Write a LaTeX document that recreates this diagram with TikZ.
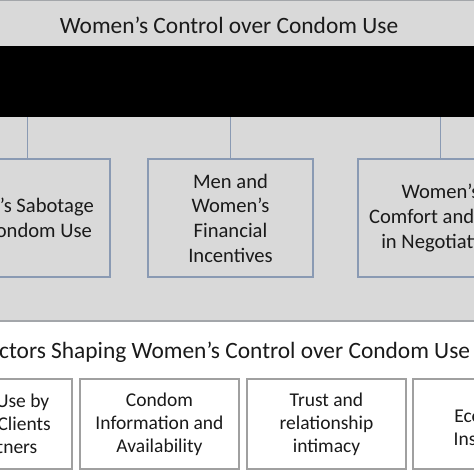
\documentclass[tikz,border=0pt]{standalone}
\usepackage{fontspec}
\setmainfont{Carlito}
\definecolor{bgrey}{HTML}{D9D9D9}
\definecolor{boxline}{HTML}{8A9AB3}
\definecolor{edgegrey}{HTML}{A3A6AA}
\definecolor{lowline}{HTML}{A0A0A0}
\definecolor{txt}{HTML}{1A1A1A}
\tikzset{
  titletext/.style={text=txt, inner sep=0pt, font=\fontsize{23.4}{28}\selectfont},
  topbox/.style={draw=boxline, fill=bgrey, line width=1.3pt, minimum width=165pt, minimum height=118pt,
    align=center, inner sep=0pt, text=txt, font=\fontsize{20.6}{24.7}\selectfont},
  lowbox/.style={draw=lowline, fill=white, line width=1.2pt, minimum width=159pt, minimum height=90pt,
    align=center, inner sep=0pt, text=txt, font=\fontsize{19.5}{22.8}\selectfont},
  conn/.style={draw=boxline, line width=1.3pt},
  blackbar/.style={fill=black, inner sep=0pt, minimum width=474pt, minimum height=71pt}
}
\begin{document}
\begin{tikzpicture}[x=1pt,y=-1pt]
\useasboundingbox (0,0) rectangle (474,474);
\clip (0,0) rectangle (474,474);
\fill[white] (0,0) rectangle (474,474);
\fill[bgrey] (0,0) rectangle (474,321);
\draw[edgegrey, line width=1.2pt] (0,0.6) -- (474,0.6);
\draw[edgegrey, line width=1.2pt] (0,321) -- (474,321);
\node[titletext] (t1) at (229,25) {Women{\char"0027}s Control over Condom Use};
\node[blackbar] (bar) at (237,81.5) {};
\node[topbox] (b1) at (27.5,218) {Men’s Sabotage\\of Condom Use};
\node[topbox] (b2) at (230.5,218) {Men and\\Women’s\\Financial\\Incentives};
\node[topbox] (b3) at (440.5,218) {Women’s\\Comfort and Skill\\in Negotiation};
\draw[conn] (b1.north) -- (b1.north |- bar.south);
\draw[conn] (b2.north) -- (b2.north |- bar.south);
\draw[conn] (b3.north) -- (b3.north |- bar.south);
\node[titletext] (t2) at (224,352) {Factors Shaping Women’s Control over Condom Use};
\node[lowbox] (c1) at (-7.5,424) {};
\node[lowbox, draw=none, fill=none] (c1t) at (-13,424) {Condom Use by\\Husband Clients\\and Partners};
\node[lowbox] (c2) at (159.5,424) {Condom\\Information and\\Availability};
\node[lowbox] (c3) at (326.5,424) {Trust and\\relationship\\intimacy};
\node[lowbox] (c4) at (492.5,424) {\mbox{}\\Economic\\Insecurity};
\end{tikzpicture}
\end{document}
